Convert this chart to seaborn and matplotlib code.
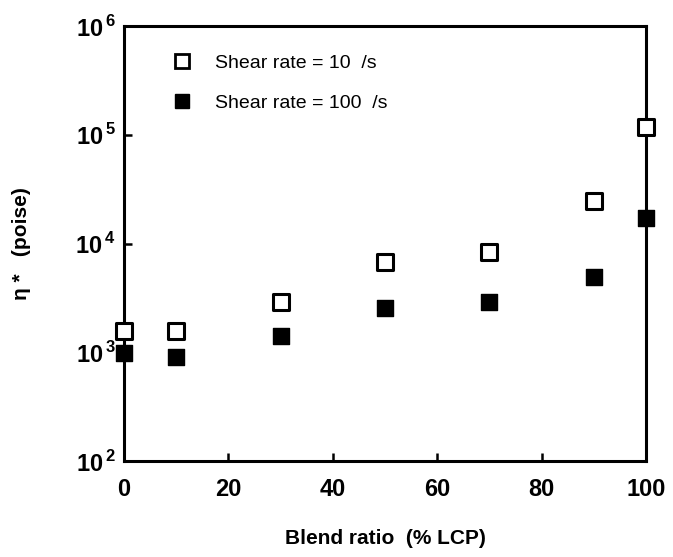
import pandas as pd
import numpy as np
import seaborn as sns
import matplotlib.pyplot as plt
from matplotlib.lines import Line2D
from matplotlib.ticker import FixedLocator, FuncFormatter, NullLocator

# data
blend_ratio = [0, 10, 30, 50, 70, 90, 100]
eta_10 = [1570, 1570, 2920, 6800, 8400, 24600, 118600]
eta_100 = [980, 900, 1430, 2570, 2920, 4950, 17400]
series_names = ['Shear rate = 10  /s', 'Shear rate = 100  /s']
x_ticks = [0, 20, 40, 60, 80, 100]
y_ticks = [1e2, 1e3, 1e4, 1e5, 1e6]

df = pd.DataFrame({
    'blend': blend_ratio * 2,
    'eta': eta_10 + eta_100,
    'series': [series_names[0]] * len(blend_ratio) + [series_names[1]] * len(blend_ratio),
})

sns.set_style('ticks')
plt.rcParams['font.family'] = ['Liberation Sans', 'DejaVu Sans']
plt.rcParams['mathtext.fontset'] = 'custom'
plt.rcParams['mathtext.bf'] = 'Liberation Sans:bold'
plt.rcParams['mathtext.rm'] = 'Liberation Sans'
plt.rcParams['text.color'] = 'black'
plt.rcParams['xtick.color'] = 'black'
plt.rcParams['ytick.color'] = 'black'
plt.rcParams['axes.labelcolor'] = 'black'
plt.rcParams['axes.edgecolor'] = 'black'

fig = plt.figure(figsize=(6.73, 5.57), dpi=100)
ax = fig.add_axes([0.184, 0.172, 0.776, 0.781])

open_df = df[df['series'] == series_names[0]]
filled_df = df[df['series'] == series_names[1]]
sns.scatterplot(data=open_df, x='blend', y='eta', marker='s', s=120,
                facecolor='white', edgecolor='black', linewidth=2.2,
                ax=ax, clip_on=False, zorder=5)
sns.scatterplot(data=filled_df, x='blend', y='eta', marker='s', s=120,
                color='black', edgecolor='black', linewidth=1,
                ax=ax, clip_on=False, zorder=5)

ax.set_yscale('log')
ax.set_xlim(0, 100)
ax.set_ylim(1e2, 1e6)
ax.xaxis.set_major_locator(FixedLocator(x_ticks))
ax.yaxis.set_major_locator(FixedLocator(y_ticks))
ax.yaxis.set_minor_locator(NullLocator())
ax.yaxis.set_major_formatter(FuncFormatter(
    lambda v, p: r'$\mathbf{10}^{\,\mathbf{%d}}$' % int(round(np.log10(v)))))
ax.xaxis.set_major_formatter(FuncFormatter(lambda v, p: '%d' % v))

for s in ax.spines.values():
    s.set_linewidth(2.2)
ax.tick_params(direction='in', length=6, width=1.8, labelsize=17)
ax.tick_params(axis='x', pad=12)
ax.tick_params(axis='y', pad=6)
for lab in ax.get_xticklabels():
    lab.set_fontweight('bold')

ax.set_xlabel('Blend ratio  (% LCP)', fontsize=15, fontweight='bold', labelpad=20)
ax.set_ylabel('η *   (poise)', fontsize=15, fontweight='bold', labelpad=32)

handles = [
    Line2D([], [], marker='s', linestyle='none', markersize=10,
           markerfacecolor='white', markeredgecolor='black', markeredgewidth=2),
    Line2D([], [], marker='s', linestyle='none', markersize=10,
           markerfacecolor='black', markeredgecolor='black'),
]
ax.legend(handles, series_names, loc='upper left', bbox_to_anchor=(0.04, 0.975),
          frameon=False, fontsize=14, handletextpad=0.7, labelspacing=1.15)

fig.savefig('out.png', dpi=100)
